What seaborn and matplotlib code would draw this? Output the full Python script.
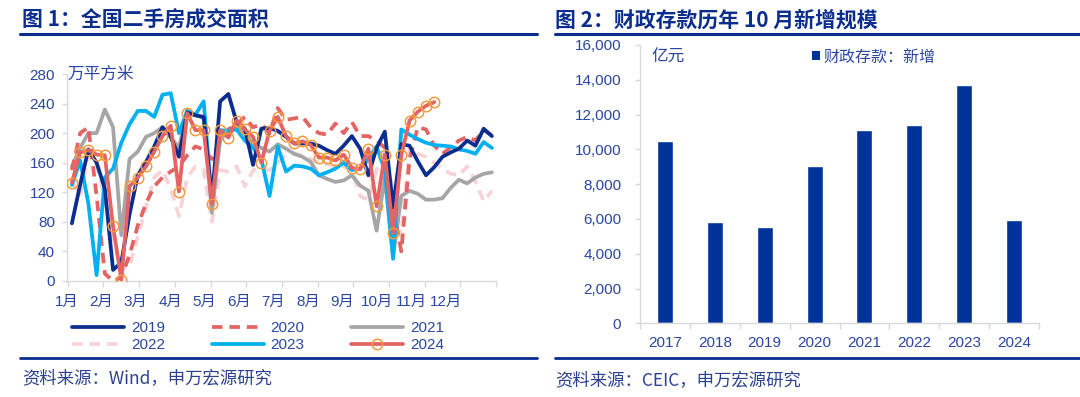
import numpy as np
import pandas as pd
import seaborn as sns
import matplotlib.pyplot as plt
from matplotlib.lines import Line2D
from matplotlib.patches import Patch

# ---- dane: wykres 1 (tygodniowo, mln m2 -> 万平方米) ----
months = ["1月", "2月", "3月", "4月", "5月", "6月", "7月", "8月", "9月", "10月", "11月", "12月"]
years = ["2019", "2020", "2021", "2022", "2023", "2024"]

area_2019 = [78, 130, 178, 160, 125, 15, 25, 90, 143, 161, 182, 208, 195, 168, 228, 224, 222, 110,
             243, 253, 215, 206, 157, 206, 207, 203, 195, 186, 186, 186, 183, 177, 172, 183, 196, 179,
             143, 180, 202, 100, 185, 183, 162, 143, 154, 168, 174, 179, 190, 183, 206, 196]
area_2020 = [150, 200, 208, 115, 10, 0, 5, 35, 75, 105, 128, 140, 148, 155, 170, 182, 178, 165,
             190, 205, 212, 222, 208, 212, 200, 234, 218, 220, 222, 208, 200, 198, 213, 200, 215, 196,
             196, 190, 180, 100, 40, 165, 208, 205, 183, 172, 181, 190, 195, 190, 204, 197]
area_2021 = [155, 180, 200, 200, 232, 208, 62, 165, 175, 195, 200, 208, 195, 180, 230, 225, 220, 92,
             190, 205, 210, 200, 185, 180, 175, 185, 179, 172, 168, 161, 143, 138, 134, 136, 143, 129,
             122, 68, 140, 32, 115, 122, 118, 110, 110, 112, 126, 137, 132, 140, 145, 147]
area_2022 = [135, 115, 170, 160, 110, 60, 15, 20, 60, 100, 140, 150, 125, 88, 140, 155, 150, 80,
             150, 148, 155, 128, 150, 152, 150, 160, 170, 172, 170, 165, 160, 158, 155, 155, 150, 115,
             110, 150, 185, 120, 60, 180, 172, 168, 160, 152, 145, 143, 155, 135, 108, 122]
area_2023 = [130, 163, 105, 8, 140, 152, 187, 212, 230, 230, 222, 252, 254, 200, 230, 225, 243, 108,
             204, 203, 205, 190, 180, 165, 115, 182, 148, 156, 155, 152, 143, 147, 152, 160, 150, 152,
             165, 182, 150, 30, 205, 198, 192, 187, 184, 183, 182, 178, 176, 172, 188, 180]
area_2024 = [133, 174, 177, 171, 170, 74, 2, 128, 140, 155, 175, 196, 210, 121, 227, 204, 204, 104,
             204, 194, 217, 205, 195, 160, 203, 222, 196, 186, 189, 184, 167, 167, 163, 171, 153, 151,
             179, 101, 171, 65, 170, 217, 229, 237, 242]

# ---- dane: wykres 2 (亿元) ----
dep_years = ["2017", "2018", "2019", "2020", "2021", "2022", "2023", "2024"]
dep_values = [10500, 5800, 5550, 9050, 11100, 11400, 13700, 5950]

NAVY = "#0B2D8E"
TXT = "#2A46A0"
SPINE = "#D9D9D9"
CJK = ["Liberation Sans", "Noto Sans CJK SC", "DejaVu Sans"]

sns.set_theme(style="white")
plt.rcParams["font.family"] = CJK

W, H = 1080, 397
fig = plt.figure(figsize=(W / 100, H / 100), dpi=100)


def fx(px):
    return px / W


def fy(py):
    return 1 - py / H


# dataframe w formacie long
series = [area_2019, area_2020, area_2021, area_2022, area_2023, area_2024]
frames = []
for yr, vals in zip(years, series):
    wk = np.arange(len(vals))
    frames.append(pd.DataFrame({"x": (wk + 0.5) * 12 / 52, "area": vals, "year": yr}))
df = pd.concat(frames, ignore_index=True)

dash = (0, (2.8, 1.85))
styles = {
    "2019": dict(color="#0B2D8E", lw=2.7, linestyle="-", zorder=5),
    "2020": dict(color="#E46464", lw=2.7, linestyle=dash, zorder=3),
    "2021": dict(color="#A6A6A6", lw=2.7, linestyle="-", zorder=2),
    "2022": dict(color="#F7D3D6", lw=2.7, linestyle=dash, zorder=1),
    "2023": dict(color="#00B0F0", lw=2.7, linestyle="-", zorder=4),
    "2024": dict(color="#E46464", lw=2.7, linestyle="-", zorder=6,
                 marker="o", markersize=7.5, markerfacecolor="none",
                 markeredgecolor="#F59A3C", markeredgewidth=1.1),
}

# ---- WYKRES 1 ----
ax1 = fig.add_axes([fx(66.7), fy(281), fx(496 - 66.7), (281 - 74) / H])
for yr in years:
    sns.lineplot(data=df[df["year"] == yr], x="x", y="area", ax=ax1,
                 errorbar=None, legend=False, **styles[yr])
ax1.set_xlim(0, 12)
ax1.set_ylim(0, 280)
ax1.set_yticks(range(0, 281, 40))
ax1.set_xticks(np.arange(12) * 0.965 - 0.03)
ax1.set_xticklabels(months)
ax1.set_xticks(np.arange(13), minor=True)
ax1.set_xlabel("")
ax1.set_ylabel("")
ax1.tick_params(axis="x", which="major", length=0, pad=10, labelsize=11, labelcolor=TXT)
ax1.tick_params(axis="x", which="minor", length=4, width=1, color=SPINE, direction="out", bottom=True)
ax1.tick_params(axis="y", length=3.5, width=1, color=SPINE, direction="out", left=True,
                pad=5, labelsize=11, labelcolor=TXT)
for s in ["top", "right"]:
    ax1.spines[s].set_visible(False)
for s in ["left", "bottom"]:
    ax1.spines[s].set_color(SPINE)
    ax1.spines[s].set_linewidth(1)
ax1.text(0.0, 280, "万平方米", fontsize=12, color=TXT, ha="left", va="center",
         transform=ax1.transData)

# legenda w 3 kolumnach (wiersz po wierszu)
handles = {}
for yr in years:
    kw = dict(styles[yr])
    kw.pop("zorder")
    handles[yr] = Line2D([], [], **kw)
order = ["2019", "2022", "2020", "2023", "2021", "2024"]
fig.legend([handles[y] for y in order], order, ncol=3, loc="center",
           bbox_to_anchor=(fx(258), fy(336.5)), frameon=False, fontsize=11,
           labelcolor=TXT, handlelength=3.4, handletextpad=0.45, columnspacing=3.05,
           labelspacing=0.2, borderpad=0, borderaxespad=0)

# ---- WYKRES 2 ----
ax2 = fig.add_axes([fx(640), fy(323.3), fx(1039 - 640), (323.3 - 45) / H])
sns.barplot(x=dep_years, y=dep_values, color="#003399", saturation=1, width=0.32, ax=ax2)
ax2.set_xlim(-0.5, 7.5)
ax2.set_ylim(0, 16000)
ax2.set_yticks(range(0, 16001, 2000))
ax2.set_yticklabels([f"{v:,}" for v in range(0, 16001, 2000)])
ax2.set_xticks(np.arange(-0.5, 8, 1), minor=True)
ax2.tick_params(axis="x", which="major", length=0, pad=9, labelsize=11, labelcolor=TXT)
ax2.tick_params(axis="x", which="minor", length=4, width=1, color=SPINE, direction="out", bottom=True)
ax2.tick_params(axis="y", length=3.5, width=1, color=SPINE, direction="out", left=True,
                pad=10, labelsize=11, labelcolor=TXT)
for s in ["top", "right"]:
    ax2.spines[s].set_visible(False)
for s in ["left", "bottom"]:
    ax2.spines[s].set_color(SPINE)
    ax2.spines[s].set_linewidth(1)
fig.text(fx(651), fy(57), "亿元", fontsize=12, color=TXT, ha="left", va="center")
fig.legend([Patch(facecolor="#003399", edgecolor="none")], ["财政存款：新增"],
           loc="center left", bbox_to_anchor=(fx(812), fy(57)), frameon=False,
           fontsize=11.5, labelcolor=TXT, handlelength=0.5, handleheight=0.5,
           handletextpad=0.2, borderpad=0, borderaxespad=0)

# ---- tytuły, linie, źródła ----
title_font = ["Noto Sans CJK SC", "DejaVu Sans"]
fig.text(fx(22), fy(20), "图 1：全国二手房成交面积", fontsize=15, fontweight="bold",
         color=NAVY, family=title_font, ha="left", va="center")
fig.text(fx(555), fy(20), "图 2：财政存款历年 10 月新增规模", fontsize=15, fontweight="bold",
         color=NAVY, family=title_font, ha="left", va="center")
for x0, x1 in [(20, 537), (555, 1080)]:
    fig.add_artist(Line2D([fx(x0), fx(x1)], [fy(33.5), fy(33.5)], color=NAVY, lw=2.2))
    fig.add_artist(Line2D([fx(x0), fx(x1)], [fy(358), fy(358)], color=NAVY, lw=2.0))
fig.text(fx(22), fy(378), "资料来源：Wind，申万宏源研究", fontsize=12.5, color="#2B4190",
         family=title_font, ha="left", va="center")
fig.text(fx(555), fy(380), "资料来源：CEIC，申万宏源研究", fontsize=12.5, color="#2B4190",
         family=title_font, ha="left", va="center")

fig.savefig("out.png", dpi=100)
plt.close(fig)
